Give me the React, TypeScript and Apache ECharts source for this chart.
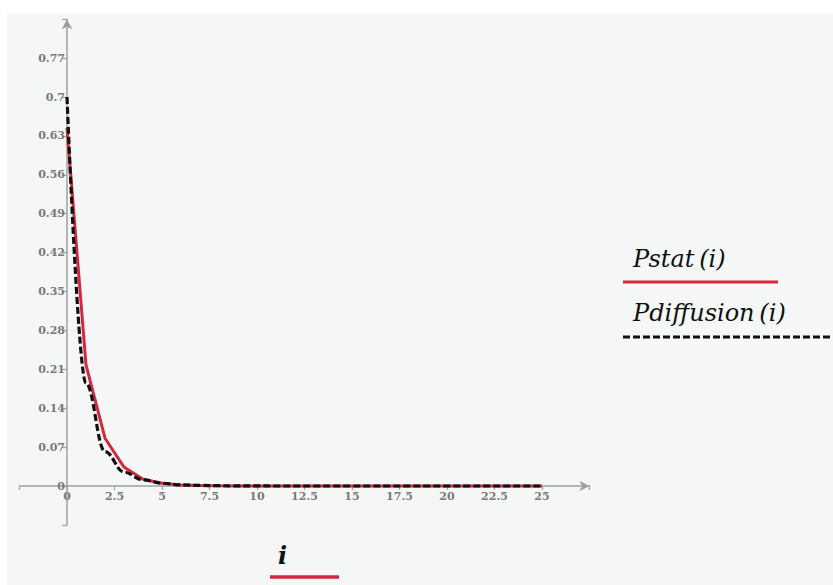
import React, { useEffect, useRef } from "react";
import * as echarts from "echarts";

const iValues = [0, 1, 2, 3, 4, 5, 6, 7, 8, 9, 10, 11, 12, 13, 14, 15, 16, 17, 18, 19, 20, 21, 22, 23, 24, 25];
const pStat = [0.644, 0.218, 0.086, 0.034, 0.012, 0.005, 0.002, 0.0008, 0.0003, 0.0001, 0, 0, 0, 0, 0, 0, 0, 0, 0, 0, 0, 0, 0, 0, 0, 0];
const pDiffusion = [0.7, 0.185, 0.062, 0.025, 0.011, 0.005, 0.002, 0.001, 0.0005, 0.0002, 0.0001, 0, 0, 0, 0, 0, 0, 0, 0, 0, 0, 0, 0, 0, 0, 0];
const seriesNames = ["Pstat(i)", "Pdiffusion(i)"];
const xAxisLabel = "i";

const RED = "#d3283e";
const AXIS = "#a0a0a0";
const LABEL = "#7a7a7a";

const GRID_LEFT = 12.5;
const GRID_TOP = 6.2;
const GRID_W = 570;
const GRID_H = 505.7;
const X_MIN = -2.5;
const X_MAX = 27.5;
const Y_MIN = -0.07;
const Y_MAX = 0.84;

export default function App() {
  const ref = useRef<HTMLDivElement>(null);
  useEffect(() => {
    if (!ref.current) return;
    const chart = echarts.init(ref.current, undefined, { renderer: "svg" });
    const labelFont = {
      fontFamily: "DejaVu Serif",
      fontSize: 11,
      fontWeight: "bold" as const,
      color: LABEL,
    };
    // distance from grid edges to the zero lines, so the axes sit at the origin
    const yAxisShift = ((0 - X_MIN) / (X_MAX - X_MIN)) * GRID_W;
    const xAxisShift = ((0 - Y_MIN) / (Y_MAX - Y_MIN)) * GRID_H;
    chart.setOption({
      animation: false,
      backgroundColor: "#f4f7f6",
      grid: {
        left: GRID_LEFT,
        top: GRID_TOP,
        width: GRID_W,
        height: GRID_H,
        containLabel: false,
        outerBoundsMode: "none",
      },
      xAxis: {
        type: "value",
        min: X_MIN,
        max: X_MAX,
        interval: 2.5,
        offset: -xAxisShift,
        axisLine: {
          show: true,
          onZero: false,
          symbol: ["none", "arrow"],
          symbolSize: [8, 10],
          lineStyle: { color: AXIS, width: 1.5 },
        },
        axisTick: { show: true, length: 4, lineStyle: { color: AXIS, width: 1.2 } },
        splitLine: { show: false },
        axisLabel: {
          ...labelFont,
          margin: 5,
          showMinLabel: true,
          showMaxLabel: true,
          formatter: (v: number) => (v < -1e-9 || v > 25.0001 ? "" : String(Math.round(v * 10) / 10)),
        },
      },
      yAxis: {
        type: "value",
        min: Y_MIN,
        max: Y_MAX,
        interval: 0.07,
        offset: -yAxisShift,
        axisLine: {
          show: true,
          onZero: false,
          symbol: ["none", "arrow"],
          symbolSize: [8, 10],
          lineStyle: { color: AXIS, width: 1.5 },
        },
        axisTick: { show: true, length: 5, lineStyle: { color: AXIS, width: 1.2 } },
        splitLine: { show: false },
        axisLabel: {
          ...labelFont,
          margin: 2,
          showMinLabel: true,
          showMaxLabel: true,
          formatter: (v: number) => (v < -1e-9 || v > 0.7701 ? "" : String(Math.round(v * 100) / 100)),
        },
      },
      series: [
        {
          name: seriesNames[0],
          type: "line",
          data: iValues.map((x, k) => [x, pStat[k]]),
          showSymbol: false,
          symbol: "none",
          lineStyle: { color: RED, width: 3 },
          z: 2,
        },
        {
          name: seriesNames[1],
          type: "line",
          data: iValues.map((x, k) => [x, pDiffusion[k]]),
          showSymbol: false,
          symbol: "none",
          smooth: 0.4,
          smoothMonotone: "x",
          lineStyle: { color: "#111111", width: 3.2, type: [7, 3] },
          z: 3,
        },
      ],
      graphic: [
        {
          type: "text",
          left: 626,
          top: 234,
          style: {
            text: seriesNames[0].replace("(", "\u2009("),
            font: "italic 24px 'DejaVu Serif'",
            fill: "#111111",
          },
        },
        {
          type: "line",
          shape: { x1: 616, y1: 269, x2: 771, y2: 269 },
          style: { stroke: RED, lineWidth: 3 },
        },
        {
          type: "text",
          left: 626,
          top: 288,
          style: {
            text: seriesNames[1].replace("(", "\u2009("),
            font: "italic 24px 'DejaVu Serif'",
            fill: "#111111",
          },
        },
        {
          type: "line",
          shape: { x1: 616, y1: 324, x2: 823, y2: 324 },
          style: { stroke: "#111111", lineWidth: 3, lineDash: [7, 3] },
        },
        {
          type: "text",
          left: 271,
          top: 530,
          style: {
            text: xAxisLabel,
            font: "italic bold 24px 'DejaVu Serif'",
            fill: "#111111",
          },
        },
        {
          type: "line",
          shape: { x1: 263, y1: 564, x2: 332, y2: 564 },
          style: { stroke: RED, lineWidth: 3.5 },
        },
      ],
    });
    return () => chart.dispose();
  }, []);
  return (
    <div
      ref={ref}
      style={{ position: "absolute", left: 7, top: 13, width: 826, height: 572 }}
    />
  );
}
